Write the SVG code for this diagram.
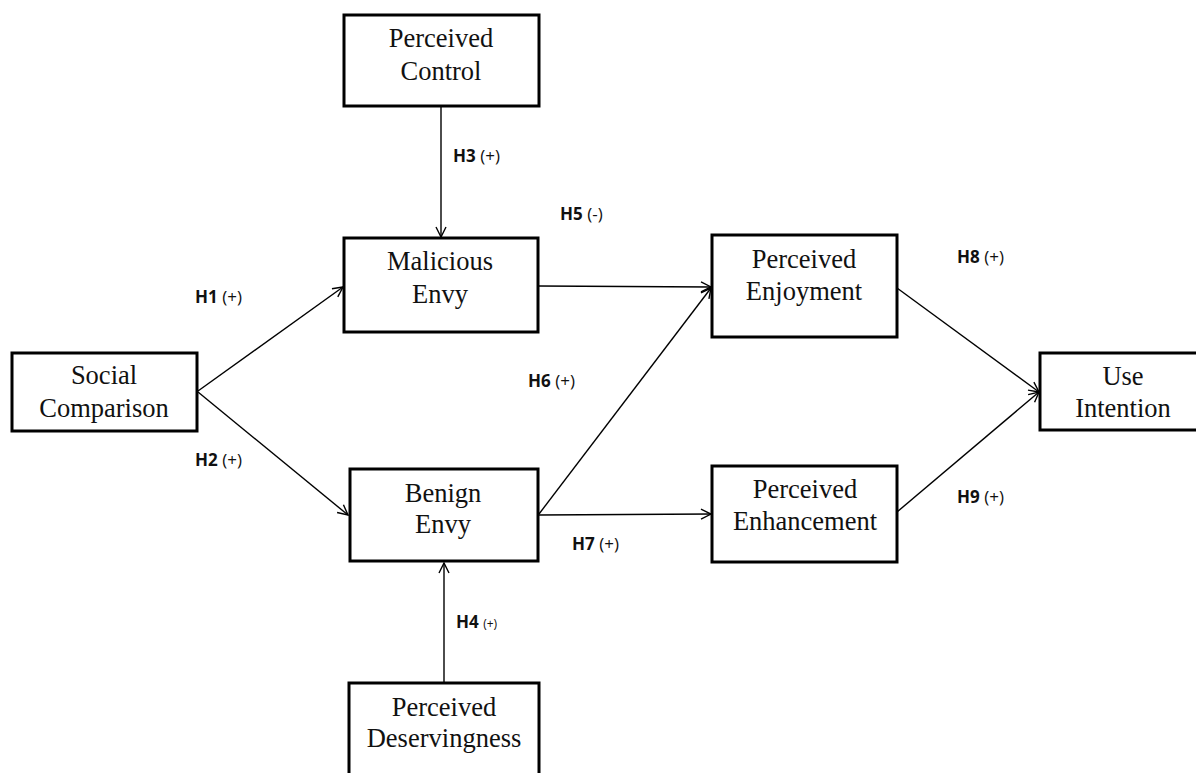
<svg xmlns="http://www.w3.org/2000/svg" width="1196" height="773" viewBox="0 0 1196 773">
<style>
.box{fill:#fff;stroke:#000;stroke-width:3}
.t{font-family:"Liberation Serif","Times New Roman",serif;font-size:26.5px;fill:#111;text-anchor:middle}
.lbl{font-family:"Open Sans","Noto Sans",sans-serif;font-size:17px;fill:#111}
.lbl .b{font-weight:bold}
.c{fill:none;stroke:#000;stroke-width:1.4}
</style>
<defs>
<marker id="ah" viewBox="0 0 12 12" refX="11" refY="6" markerWidth="12" markerHeight="12" markerUnits="userSpaceOnUse" orient="auto">
<path d="M1,1 L11,6 L1,11" fill="none" stroke="#000" stroke-width="1.4"/>
</marker>
</defs>
<rect width="1196" height="773" fill="#fff"/>
<g id="connectors">
<line class="c" x1="441" y1="107" x2="441" y2="237" marker-end="url(#ah)"/>
<line class="c" x1="198" y1="391" x2="343" y2="287" marker-end="url(#ah)"/>
<line class="c" x1="198" y1="392" x2="348" y2="515" marker-end="url(#ah)"/>
<line class="c" x1="444" y1="683" x2="444" y2="563" marker-end="url(#ah)"/>
<line class="c" x1="539" y1="286" x2="711" y2="287" marker-end="url(#ah)"/>
<line class="c" x1="539" y1="514" x2="711" y2="288" marker-end="url(#ah)"/>
<line class="c" x1="539" y1="515" x2="711" y2="514" marker-end="url(#ah)"/>
<line class="c" x1="897" y1="288" x2="1039" y2="392" marker-end="url(#ah)"/>
<line class="c" x1="897" y1="512" x2="1039" y2="392" marker-end="url(#ah)"/>
</g>
<g id="labels">
<text class="lbl" x="453" y="162"><tspan class="b">H3</tspan> (+)</text>
<text class="lbl" x="195" y="303"><tspan class="b">H1</tspan> (+)</text>
<text class="lbl" x="195" y="466"><tspan class="b">H2</tspan> (+)</text>
<text class="lbl" x="456" y="628"><tspan class="b">H4</tspan> <tspan font-size="12">(+)</tspan></text>
<text class="lbl" x="560" y="220"><tspan class="b">H5</tspan> (-)</text>
<text class="lbl" x="528" y="387"><tspan class="b">H6</tspan> (+)</text>
<text class="lbl" x="572" y="550"><tspan class="b">H7</tspan> (+)</text>
<text class="lbl" x="957" y="263"><tspan class="b">H8</tspan> (+)</text>
<text class="lbl" x="957" y="503"><tspan class="b">H9</tspan> (+)</text>
</g>
<g id="perceived-control">
<rect class="box" x="344" y="15" width="195" height="91"/>
<text class="t" x="441" y="47">Perceived</text>
<text class="t" x="441" y="80">Control</text>
</g>
<g id="malicious-envy">
<rect class="box" x="344" y="238" width="194" height="94"/>
<text class="t" x="440" y="270">Malicious</text>
<text class="t" x="440" y="303">Envy</text>
</g>
<g id="social-comparison">
<rect class="box" x="12" y="353" width="185" height="78"/>
<text class="t" x="104" y="384">Social</text>
<text class="t" x="104" y="417">Comparison</text>
</g>
<g id="benign-envy">
<rect class="box" x="350" y="469" width="188" height="92"/>
<text class="t" x="443" y="502">Benign</text>
<text class="t" x="443" y="533">Envy</text>
</g>
<g id="perceived-deservingness">
<rect class="box" x="349" y="683" width="190" height="100"/>
<text class="t" x="444" y="716">Perceived</text>
<text class="t" x="444" y="747">Deservingness</text>
</g>
<g id="perceived-enjoyment">
<rect class="box" x="712" y="235" width="185" height="102"/>
<text class="t" x="804" y="268">Perceived</text>
<text class="t" x="804" y="300">Enjoyment</text>
</g>
<g id="perceived-enhancement">
<rect class="box" x="712" y="466" width="185" height="96"/>
<text class="t" x="805" y="498">Perceived</text>
<text class="t" x="805" y="530">Enhancement</text>
</g>
<g id="use-intention">
<rect class="box" x="1040" y="353" width="160" height="77"/>
<text class="t" x="1123" y="385">Use</text>
<text class="t" x="1123" y="417">Intention</text>
</g>
</svg>
